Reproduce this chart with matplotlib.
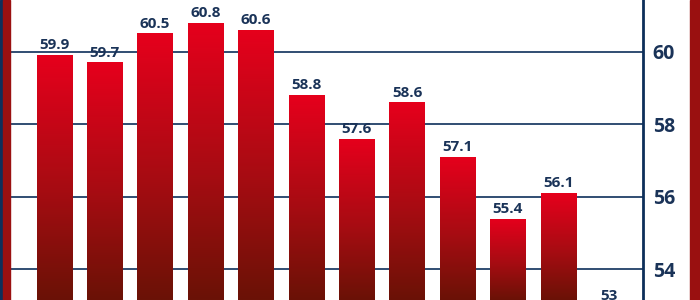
import matplotlib
matplotlib.use('Agg')
import matplotlib.pyplot as plt
import numpy as np
from matplotlib.patches import Rectangle
from matplotlib.colors import LinearSegmentedColormap

values = [59.9, 59.7, 60.5, 60.8, 60.6, 58.8, 57.6, 58.6, 57.1, 55.4, 56.1, 53]
labels = ['59.9', '59.7', '60.5', '60.8', '60.6', '58.8', '57.6', '58.6', '57.1', '55.4', '56.1', '53']
yticks = [54, 56, 58, 60]

navy = '#0d2f5a'
strip_red = '#9a1010'
grad = LinearSegmentedColormap.from_list(
    'bar', [(0, '#6a1206'), (0.45, '#a60c12'), (1, '#e6001c')])

plt.rcParams['font.family'] = ['Open Sans', 'DejaVu Sans']

fig = plt.figure(figsize=(7, 3), dpi=100)
ax = fig.add_axes([1/700, 0, 642/700, 1])

x = np.arange(len(values))
ymin, ymax = 53.16, 61.42
ax.set_xlim(-1.057, 11.68)
ax.set_ylim(ymin, ymax)

ax.set_axisbelow(True)
ax.grid(axis='y', color=navy, linewidth=1.2)

bars = ax.bar(x, values, width=0.7, color='none', edgecolor='none', zorder=2)
g = np.linspace(0, 1, 256).reshape(-1, 1)
for b, v in zip(bars, values):
    x0 = b.get_x()
    im = ax.imshow(g, cmap=grad, extent=[x0, x0 + b.get_width(), ymin, v],
                   origin='lower', aspect='auto', zorder=2)
    im.set_clip_path(b)

for xi, v, t in zip(x, values, labels):
    ax.annotate(t, (xi, v), xytext=(0, 2), textcoords='offset points',
                ha='center', va='bottom', fontsize=11, fontweight='bold',
                color='#1a3358', zorder=3, annotation_clip=False)

ax.yaxis.tick_right()
ax.set_yticks(yticks)
ax.set_yticklabels([str(t) for t in yticks])
ax.tick_params(axis='y', length=0, pad=7, labelsize=14, labelcolor='#1a3358')
for lab in ax.get_yticklabels():
    lab.set_fontweight('bold')
ax.set_xticks([])

for s in ['top', 'bottom', 'left']:
    ax.spines[s].set_visible(False)
ax.spines['right'].set_color(navy)
ax.spines['right'].set_linewidth(2)

# side strips
fig.patches.append(Rectangle((0, 0), 3/700, 1, transform=fig.transFigure, color=navy, zorder=5))
fig.patches.append(Rectangle((3/700, 0), 7/700, 1, transform=fig.transFigure, color=strip_red, zorder=5))
fig.patches.append(Rectangle((690/700, 0), 10/700, 1, transform=fig.transFigure, color=strip_red, zorder=5))

fig.savefig('out.png', dpi=100)
